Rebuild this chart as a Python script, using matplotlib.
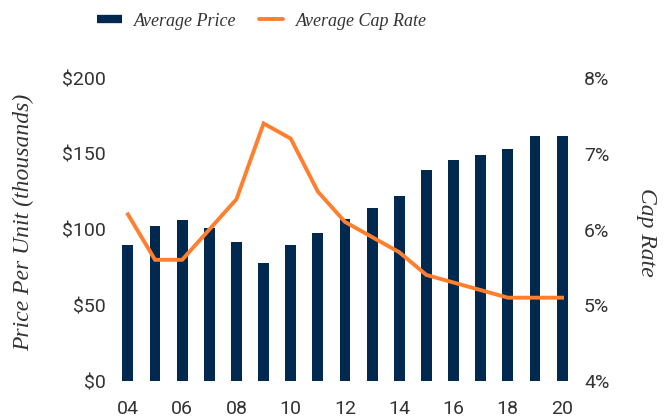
import matplotlib
matplotlib.use('Agg')

import numpy as np
import matplotlib.pyplot as plt
from matplotlib.lines import Line2D

# Data
years = ['04', '05', '06', '07', '08', '09', '10', '11', '12',
         '13', '14', '15', '16', '17', '18', '19', '20']
avg_price = [90, 102, 106, 101, 92, 78, 90, 98, 107,
             114, 122, 139, 146, 149, 153, 162, 162]
cap_rate = [6.2, 5.6, 5.6, 6.0, 6.4, 7.4, 7.2, 6.5, 6.1,
            5.9, 5.7, 5.4, 5.3, 5.2, 5.1, 5.1, 5.1]
price_ticks = [0, 50, 100, 150, 200]
rate_ticks = [4, 5, 6, 7, 8]

NAVY = '#01294F'
ORANGE = '#FF7F2F'
TEXT = '#333333'
TICK_FONT = 'Roboto'
SERIF = 'Liberation Serif'

W, H = 667, 418
fig = plt.figure(figsize=(W / 100, H / 100), dpi=100)

# axes box in pixels: left 113, right 577, top 78, bottom 381
ax = fig.add_axes([113 / W, (H - 381) / H, (577 - 113) / W, (381 - 78) / H])
ax2 = ax.twinx()

x = np.arange(len(years))
ax.bar(x, avg_price, width=0.4, color=NAVY, zorder=2)
ax2.plot(x, cap_rate, color=ORANGE, lw=2.8, solid_joinstyle='miter', zorder=3)

ax.set_xlim(-0.55, len(years) - 1 + 0.55)
ax.set_ylim(0, 200)
ax2.set_ylim(4, 8)

ax.set_xticks(x[::2])
ax.set_xticklabels(years[::2])
ax.set_yticks(price_ticks)
ax.set_yticklabels([f'${v}' for v in price_ticks])
ax2.set_yticks(rate_ticks)
ax2.set_yticklabels([f'{v}%' for v in rate_ticks])

for a in (ax, ax2):
    for s in a.spines.values():
        s.set_visible(False)
    a.tick_params(length=0, labelsize=14, labelcolor=TEXT)
    for lbl in a.get_xticklabels() + a.get_yticklabels():
        lbl.set_fontfamily(TICK_FONT)
ax.tick_params(axis='x', pad=14)
ax.tick_params(axis='y', pad=5)
ax2.tick_params(axis='y', pad=5)

# axis titles
fig.text(24 / W, 1 - 222 / H, 'Price Per Unit (thousands)', rotation=90,
         ha='center', va='center', fontsize=17, style='italic',
         family=SERIF, color=TEXT)
fig.text(647 / W, 1 - 232 / H, 'Cap Rate', rotation=270,
         ha='center', va='center', fontsize=17, style='italic',
         family=SERIF, color=TEXT)

# legend (sits left of centre in the reference)
handles = [
    Line2D([], [], color=NAVY, lw=6, solid_capstyle='butt'),
    Line2D([], [], color=ORANGE, lw=2.8, solid_capstyle='round'),
]
leg = fig.legend(handles, ['Average Price', 'Average Cap Rate'],
                 loc='center', bbox_to_anchor=(262 / W, 1 - 21 / H), ncol=2,
                 frameon=False, handlelength=1.35, handletextpad=0.7,
                 columnspacing=1.2,
                 prop={'family': SERIF, 'style': 'italic', 'size': 13})
for t in leg.get_texts():
    t.set_color(TEXT)

plt.savefig('out.png', dpi=100, facecolor='white')
plt.close()
